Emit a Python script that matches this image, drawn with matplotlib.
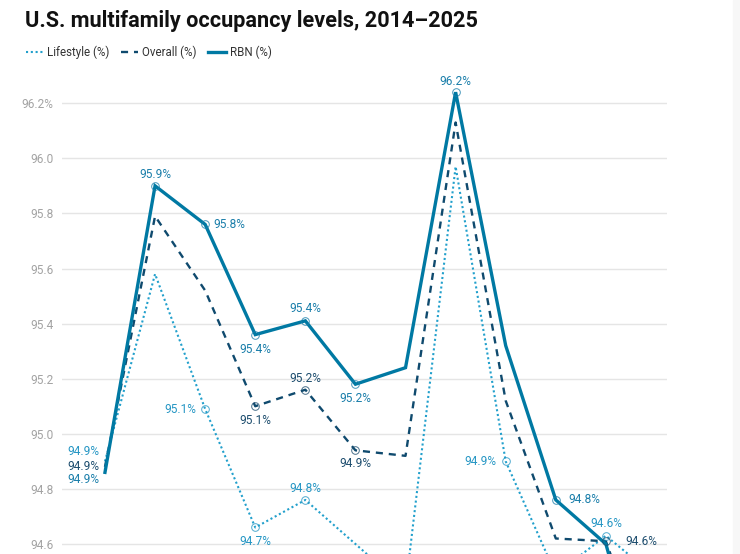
import numpy as np
import matplotlib
matplotlib.use("Agg")
import matplotlib.pyplot as plt
from matplotlib.patches import Rectangle
from matplotlib.lines import Line2D

plt.rcParams['font.family'] = ['Roboto', 'DejaVu Sans']

# data
years = [2014, 2015, 2016, 2017, 2018, 2019, 2020, 2021, 2022, 2023, 2024, 2025]
lifestyle = [94.90, 95.58, 95.09, 94.66, 94.76, 94.60, 94.44, 95.97, 94.90, 94.49, 94.63, 94.48]
overall = [94.88, 95.79, 95.52, 95.10, 95.16, 94.94, 94.92, 96.13, 95.12, 94.62, 94.61, 94.10]
rbn = [94.86, 95.90, 95.76, 95.36, 95.41, 95.18, 95.24, 96.24, 95.32, 94.76, 94.60, 93.95]
tick_vals = [94.6, 94.8, 95.0, 95.2, 95.4, 95.6, 95.8, 96.0, 96.2]

c_life = '#22a0cc'
c_over = '#0f4a6e'
c_rbn = '#0079a3'

# which points get a label: index -> (ha, dx px, dy px, marker?)
life_lab = {0: ('right', -6, 10, False), 2: ('right', -9, 0, True), 3: ('center', 0, -14, True),
            4: ('center', 0, 11, True), 8: ('right', -9, 0, True), 10: ('center', 0, 12, True)}
over_lab = {0: ('right', -6, 0, False), 3: ('center', 0, -14, True), 4: ('center', 0, 11, True),
            5: ('center', 0, -13, True), 10: ('left', 19, 0, True)}
rbn_lab = {0: ('right', -6, -7, False), 1: ('center', 0, 11, True), 2: ('left', 8, 0, True),
           3: ('center', 0, -15, True), 4: ('center', 0, 12, True), 5: ('center', 0, -14, True),
           7: ('center', 0, 11, True), 9: ('left', 13, 0, True)}

fig = plt.figure(figsize=(7.4, 5.54), dpi=100)
fig.patches.append(Rectangle((733 / 740, 0), 7 / 740, 1, transform=fig.transFigure,
                             color='#f7f7f7', zorder=0))

# axes placed so the bottom runs off the picture like in the reference
ymin, ymax = 93.8, 96.3
ppu = 275.5
top_px = 544 - (ymax - 94.6) * ppu
bot_px = 544 + (94.6 - ymin) * ppu
ax = fig.add_axes([62 / 740, 1 - bot_px / 554, 605 / 740, (bot_px - top_px) / 554])
ax.set_ylim(ymin, ymax)
ax.set_xlim(-0.858, 11.22)
ax.patch.set_alpha(0)

x = np.arange(len(years))
ax.plot(x, lifestyle, color=c_life, lw=1.5, ls=(0, (1, 1.3)), zorder=3)
ax.plot(x, overall, color=c_over, lw=1.7, ls=(0, (3, 2.5)), zorder=4)
ax.plot(x, rbn, color=c_rbn, lw=2.4, solid_joinstyle='miter', zorder=5)


def labels(vals, spec, col):
    for i, (ha, dx, dy, mk) in spec.items():
        if mk:
            ax.plot(x[i], vals[i], 'o', ms=5.5, mfc='none', mec=col, mew=0.7, alpha=0.8, zorder=6)
        ax.annotate('%.1f%%' % vals[i], (x[i], vals[i]), xytext=(dx * 0.72, dy * 0.72),
                    textcoords='offset points', ha=ha, va='center', fontsize=8.6, color=col, zorder=7)


labels(lifestyle, life_lab, '#2596c4')
labels(overall, over_lab, '#1d4d6e')
labels(rbn, rbn_lab, '#1a7eaa')

ax.set_yticks(tick_vals)
ax.set_yticklabels(['%.1f%%' % t if t == tick_vals[-1] else '%.1f' % t for t in tick_vals])
ax.tick_params(axis='y', length=0, pad=6, labelsize=8.6, labelcolor='#a3a3a3')
ax.set_xticks([])
ax.grid(axis='y', color='#e5e5e5', lw=1)
ax.set_axisbelow(True)
for s in ax.spines.values():
    s.set_visible(False)

fig.text(25 / 740, 1 - 27 / 554, 'U.S. multifamily occupancy levels, 2014\u20132025',
         fontsize=15.6, fontweight='bold', color='#111111', va='baseline')

handles = [Line2D([], [], color=c_life, lw=1.5, ls=(0, (1, 1.3))),
           Line2D([], [], color=c_over, lw=1.7, ls=(0, (3, 2.5))),
           Line2D([], [], color=c_rbn, lw=2.4)]
fig.legend(handles, ['Lifestyle (%)', 'Overall (%)', 'RBN (%)'], loc='center left',
           bbox_to_anchor=(20 / 740, 1 - 52 / 554), ncol=3, frameon=False, fontsize=8.3,
           handlelength=1.5, handletextpad=0.35, columnspacing=1.0, borderpad=0,
           labelcolor='#333333')

fig.savefig('out.png', dpi=100)
